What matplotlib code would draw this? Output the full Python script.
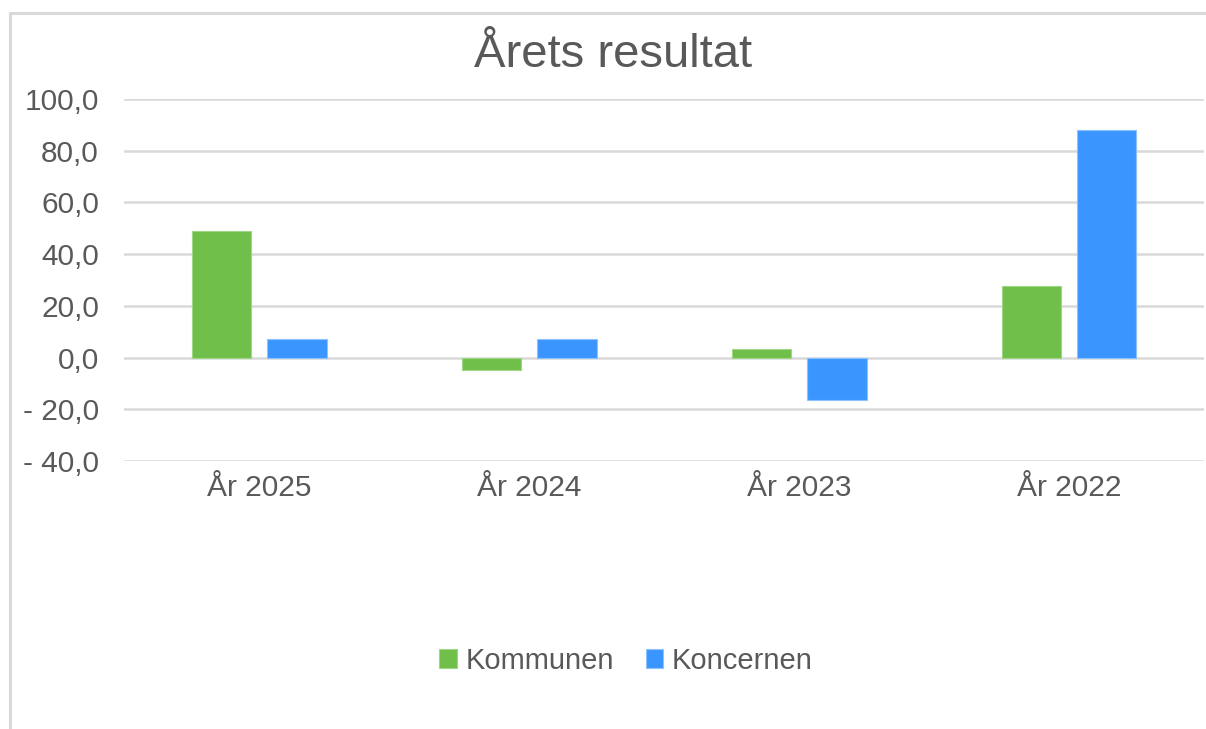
import matplotlib
matplotlib.use("Agg")
import matplotlib.pyplot as plt
import numpy as np
from matplotlib.ticker import FuncFormatter
from matplotlib.patches import Rectangle

categories = ["År 2025", "År 2024", "År 2023", "År 2022"]
kommunen = [48.9, -4.7, 3.2, 27.5]
koncernen = [7.1, 7.2, -16.5, 88.2]

GREEN = "#6fbf4a"
BLUE = "#3a96fe"
TEXT = "#595959"
GRID = "#d9d9d9"

plt.rcParams["font.family"] = ["Liberation Sans", "DejaVu Sans"]

W, H = 1206, 729
fig = plt.figure(figsize=(W / 100, H / 100), dpi=100)
ax = fig.add_axes([124 / W, 1 - 461 / H, (1204 - 124) / W, (461 - 99) / H])

x = np.arange(len(categories))
bw = 0.22
off = 0.14
ax.bar(x - off, kommunen, bw, color=GREEN, edgecolor="#9fd884", linewidth=0.8,
       label="Kommunen", zorder=3)
ax.bar(x + off, koncernen, bw, color=BLUE, edgecolor="#8cc2ff", linewidth=0.8,
       label="Koncernen", zorder=3)

ax.set_xlim(-0.5, len(categories) - 0.5)
ax.set_ylim(-40, 100)
ax.set_yticks(np.arange(-40, 101, 20))
ax.yaxis.set_major_formatter(FuncFormatter(
    lambda v, p: (f"- {abs(v):.1f}" if v < 0 else f"{v:.1f}").replace(".", ",")))
ax.set_xticks(x)
ax.set_xticklabels(categories)

ax.grid(axis="y", color=GRID, linewidth=1.8, zorder=0)
ax.set_axisbelow(True)
for s in ax.spines.values():
    s.set_visible(False)
ax.tick_params(axis="y", length=0, labelsize=21.5, colors=TEXT, pad=18)
ax.tick_params(axis="x", length=0, labelsize=21.5, colors=TEXT, pad=9)

fig.text(613 / W, 1 - 55 / H, "Årets resultat", ha="center", va="center",
         fontsize=34, color=TEXT)

leg = fig.legend(loc="center", bbox_to_anchor=(626 / W, 1 - 661 / H), ncol=2,
                 frameon=False, fontsize=21, handlelength=0.6, handleheight=0.6,
                 handletextpad=0.3, columnspacing=1.1, labelcolor=TEXT)

# outer chart frame (only top and left edges visible)
fig.add_artist(Rectangle((9.5 / W, -0.1), 1.2, 1.1 - 13 / H, transform=fig.transFigure,
                         fill=False, edgecolor=GRID, linewidth=2.2))

fig.savefig("out.png", dpi=100)
